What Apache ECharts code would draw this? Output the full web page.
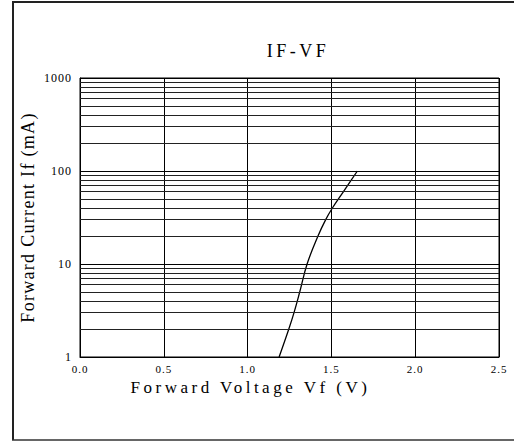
<!DOCTYPE html>
<html><head><meta charset="utf-8">
<script src="https://cdn.jsdelivr.net/npm/echarts@6/dist/echarts.min.js"></script>
<style>html,body{margin:0;padding:0;background:#fff}#c{width:514px;height:441px}</style>
</head><body><div id="c"></div>
<script>
const chartTitle = 'IF-VF';
const xAxisName = 'Forward Voltage Vf (V)';
const yAxisName = 'Forward Current If (mA)';
const voltage = [1.188, 1.246, 1.277, 1.311, 1.355, 1.42, 1.466, 1.506, 1.572, 1.655];
const current = [1, 2, 3, 5, 10, 20, 30, 40, 60, 100];
const minorGridValues = [2,3,4,5,6,7,8,9,20,30,40,50,60,70,80,90,200,300,400,500,600,700,800,900];
const xTickLabels = ['0.0','0.5','1.0','1.5','2.0','2.5'];
const yTickLabels = ['1','10','100','1000'];

const FONT = 'Liberation Serif';
const chart = echarts.init(document.getElementById('c'), null, {renderer: 'svg'});
chart.setOption({
  animation: false,
  backgroundColor: '#fff',
  grid: {left: 80, right: 15, top: 78, bottom: 84, show: true, borderColor: '#000', borderWidth: 1},
  graphic: [
    {type: 'line', shape: {x1: 12, y1: 2, x2: 514, y2: 2}, style: {stroke: '#222', lineWidth: 2}},
    {type: 'line', shape: {x1: 13, y1: 2, x2: 13, y2: 440}, style: {stroke: '#222', lineWidth: 2}},
    {type: 'line', shape: {x1: 12, y1: 440, x2: 514, y2: 440}, style: {stroke: '#333', lineWidth: 1.5}},
    {type: 'text', x: 298, y: 51, style: {text: chartTitle, fontSize: 18, fontFamily: FONT, fill: '#000', align: 'center', verticalAlign: 'middle'}}
  ],
  xAxis: {
    type: 'value', min: 0, max: 2.5, interval: 0.5,
    axisLine: {show: true, lineStyle: {color: '#000', width: 1}},
    axisTick: {show: false},
    axisLabel: {color: '#000', fontSize: 11, lineHeight: 10, fontFamily: FONT, margin: 7,
      formatter: (v) => xTickLabels[Math.round(v / 0.5)]},
    splitLine: {show: true, lineStyle: {color: '#000', width: 1}},
    name: xAxisName, nameLocation: 'middle', nameGap: 23, nameMoveOverlap: false,
    nameTextStyle: {color: '#000', fontSize: 17, lineHeight: 14, fontFamily: FONT, padding: [0, 78, 0, 0]}
  },
  yAxis: {
    type: 'log', logBase: 10, min: 1, max: 1000,
    axisLine: {show: true, lineStyle: {color: '#000', width: 1}},
    axisTick: {show: false},
    axisLabel: {color: '#000', fontSize: 12, fontFamily: FONT, margin: 8,
      formatter: (v) => yTickLabels[Math.round(Math.log10(v))]},
    splitLine: {show: true, lineStyle: {color: '#000', width: 1}},
    name: yAxisName, nameLocation: 'middle', nameGap: 43, nameMoveOverlap: false,
    nameTextStyle: {color: '#000', fontSize: 18, fontFamily: FONT}
  },
  series: [{
    type: 'line',
    data: voltage.map((v, i) => [v, current[i]]),
    smooth: 0.4,
    symbol: 'none',
    lineStyle: {color: '#000', width: 1.3},
    markLine: {
      silent: true, symbol: 'none', animation: false,
      label: {show: false},
      lineStyle: {color: '#222', width: 1, type: 'solid'},
      data: minorGridValues.map(v => ({yAxis: v}))
    }
  }]
});

const spacing = {};
spacing[chartTitle] = 3.5;
spacing[xAxisName] = 3.5;
spacing[yAxisName] = 1.3;
yTickLabels.concat(xTickLabels).forEach(t => spacing[t] = 1);
function applySpacing() {
  document.querySelectorAll('#c svg text').forEach(el => {
    const t = el.textContent;
    if (spacing[t] !== undefined) el.setAttribute('letter-spacing', spacing[t] + 'px');
  });
}
applySpacing();
chart.on('finished', applySpacing);
setTimeout(applySpacing, 50);
</script>
</body></html>
